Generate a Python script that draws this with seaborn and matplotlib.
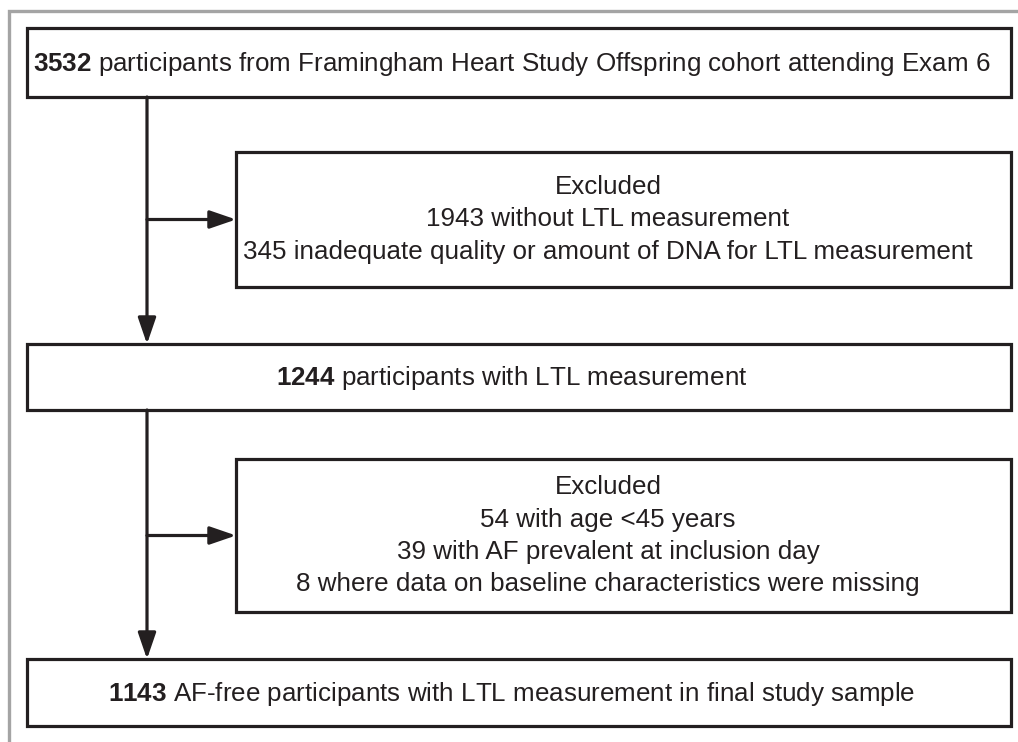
import matplotlib
matplotlib.use('Agg')
import matplotlib.pyplot as plt
from matplotlib.patches import Rectangle
import seaborn as sns

# participant counts along the main flow
stage_counts = [3532, 1244, 1143]
stage_labels = ['participants from Framingham Heart Study Offspring cohort attending Exam 6',
                'participants with LTL measurement',
                'AF-free participants with LTL measurement in final study sample']

# exclusions after exam 6
excl1_counts = [1943, 345]
excl1_reasons = ['without LTL measurement',
                 'inadequate quality or amount of DNA for LTL measurement']

# exclusions after LTL measurement
excl2_counts = [54, 39, 8]
excl2_reasons = ['with age <45 years',
                 'with AF prevalent at inclusion day',
                 'where data on baseline characteristics were missing']

sns.set_style('white')
plt.rcParams['font.family'] = ['Liberation Sans', 'DejaVu Sans']
plt.rcParams['mathtext.fontset'] = 'custom'
plt.rcParams['mathtext.bf'] = 'Liberation Sans:bold'
plt.rcParams['mathtext.rm'] = 'Liberation Sans'

ink = '#231f20'
fs = 18.7
lw = 2.3

# layout (pixel coords)
main_x = (27, 1011)
main_y = [(28, 97), (344, 410), (659, 726)]
side_x = (236, 1011)
side_y = [(152, 287), (459, 612)]
spine_x = 147
line_gap = 32

fig = plt.figure(figsize=(10.18, 7.42), dpi=100)
ax = fig.add_axes([0, 0, 1, 1])
ax.set_xlim(0, 1018)
ax.set_ylim(742, 0)
ax.axis('off')

# grey panel frame (top + left)
ax.plot([9, 9, 1018], [742, 11, 11], color='#a4a4a4', lw=2.4, solid_joinstyle='miter')


def box(x, y):
    ax.add_patch(Rectangle((x[0], y[0]), x[1] - x[0], y[1] - y[0], fill=False,
                           edgecolor=ink, lw=lw, joinstyle='miter'))


def arrow(start, end):
    ax.annotate('', xy=end, xytext=start,
                arrowprops=dict(arrowstyle='-|>,head_length=1.6,head_width=0.55',
                                mutation_scale=10, lw=lw, color=ink,
                                shrinkA=0, shrinkB=0))


for (y0, y1), n, lab in zip(main_y, stage_counts, stage_labels):
    box(main_x, (y0, y1))
    ax.text(512, (y0 + y1) / 2 + 1, r'$\mathbf{%d}$ %s' % (n, lab), fontsize=fs,
            color=ink, ha='center', va='center')

for (y0, y1), counts, reasons in zip(side_y, [excl1_counts, excl2_counts],
                                     [excl1_reasons, excl2_reasons]):
    box(side_x, (y0, y1))
    lines = ['Excluded'] + ['%d %s' % (c, r) for c, r in zip(counts, reasons)]
    yc = (y0 + y1) / 2
    top = yc - line_gap * (len(lines) - 1) / 2
    for i, t in enumerate(lines):
        ax.text(608, top + i * line_gap, t, fontsize=fs, color=ink,
                ha='center', va='center')
    arrow((spine_x, yc), (side_x[0], yc))

# vertical spine between main boxes
for a, b in zip(main_y[:-1], main_y[1:]):
    arrow((spine_x, a[1]), (spine_x, b[0]))

fig.savefig('out.png', dpi=100)
